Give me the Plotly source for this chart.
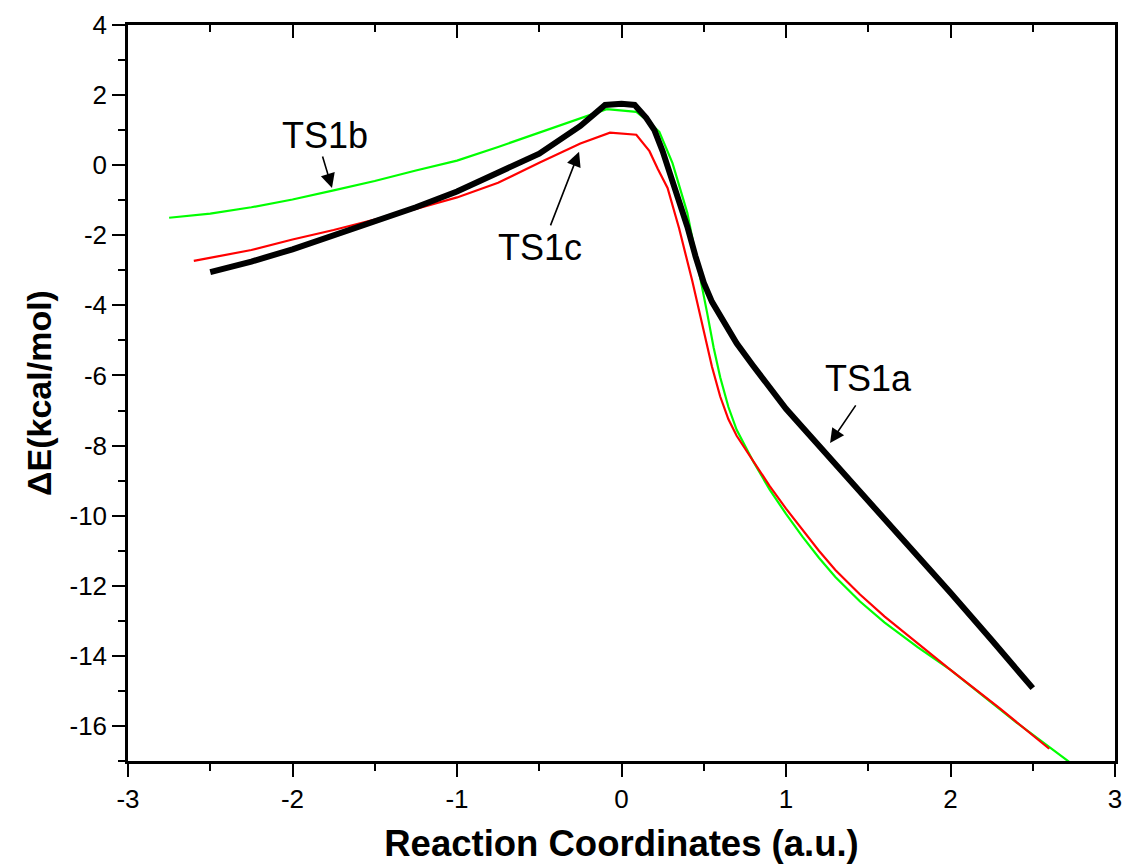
import plotly.graph_objects as go

# TS1a (black, thick)
ts1a_x = [-2.5, -2.25, -2.0, -1.75, -1.5, -1.25, -1.0, -0.75, -0.5, -0.25, -0.1, 0.0, 0.08,
          0.15, 0.2, 0.25, 0.3, 0.35, 0.4, 0.45, 0.5, 0.55, 0.6, 0.65, 0.7, 0.8, 0.9, 1.0,
          1.1, 1.2, 1.3, 1.4, 1.5, 1.75, 2.0, 2.25, 2.5]
ts1a_y = [-3.05, -2.75, -2.4, -2.0, -1.62, -1.2, -0.75, -0.22, 0.33, 1.12, 1.72, 1.75, 1.72,
          1.35, 1.0, 0.4, -0.3, -1.0, -1.75, -2.6, -3.35, -3.9, -4.32, -4.72, -5.08, -5.72,
          -6.35, -6.95, -7.48, -8.0, -8.52, -9.05, -9.58, -10.9, -12.2, -13.55, -14.92]

# TS1c (red)
ts1c_x = [-2.6, -2.25, -2.0, -1.75, -1.5, -1.25, -1.0, -0.75, -0.5, -0.25, -0.07, 0.09, 0.17,
          0.22, 0.28, 0.35, 0.43, 0.49, 0.55, 0.6, 0.65, 0.7, 0.8, 0.9, 1.0, 1.1, 1.2, 1.3,
          1.45, 1.6, 1.8, 2.0, 2.3, 2.6]
ts1c_y = [-2.73, -2.42, -2.12, -1.85, -1.55, -1.25, -0.92, -0.5, 0.07, 0.62, 0.93, 0.87, 0.4,
          -0.1, -0.65, -1.8, -3.3, -4.5, -5.75, -6.6, -7.25, -7.72, -8.45, -9.15, -9.8, -10.4,
          -11.0, -11.55, -12.25, -12.88, -13.65, -14.4, -15.5, -16.65]

# TS1b (green)
ts1b_x = [-2.75, -2.5, -2.25, -2.0, -1.75, -1.5, -1.25, -1.0, -0.75, -0.5, -0.25, -0.09, 0.09,
          0.15, 0.23, 0.31, 0.4, 0.48, 0.52, 0.56, 0.6, 0.65, 0.7, 0.8, 0.9, 1.0, 1.1, 1.2,
          1.3, 1.45, 1.6, 1.8, 2.0, 2.4, 2.8]
ts1b_y = [-1.5, -1.38, -1.2, -0.98, -0.72, -0.45, -0.15, 0.13, 0.52, 0.93, 1.33, 1.6, 1.52,
          1.3, 0.95, 0.06, -1.36, -3.2, -4.2, -5.2, -6.05, -6.9, -7.55, -8.45, -9.25, -9.95,
          -10.6, -11.2, -11.75, -12.45, -13.05, -13.75, -14.4, -15.9, -17.3]

x_ticks = [-3, -2, -1, 0, 1, 2, 3]
y_ticks = [4, 2, 0, -2, -4, -6, -8, -10, -12, -14, -16]

# annotation labels: (text, text_x, text_y, tail_x, tail_y, head_x, head_y)
labels = [
    ("TS1b", -1.80, 0.86, -1.82, 0.29, -1.76, -0.65),
    ("TS1c", -0.495, -2.36, -0.435, -1.76, -0.258, 0.38),
    ("TS1a", 1.50, -6.1, 1.43, -6.81, 1.268, -7.93),
]

FONT = "Liberation Sans, Arial, sans-serif"

fig = go.Figure()
fig.add_trace(go.Scatter(x=ts1b_x, y=ts1b_y, mode="lines", line=dict(color="#00ff00", width=2.2),
                         name="TS1b", showlegend=False))
fig.add_trace(go.Scatter(x=ts1c_x, y=ts1c_y, mode="lines", line=dict(color="#ff0000", width=2.2),
                         name="TS1c", showlegend=False))
fig.add_trace(go.Scatter(x=ts1a_x, y=ts1a_y, mode="lines", line=dict(color="#000000", width=6),
                         name="TS1a", showlegend=False))
# invisible trace for top axis
fig.add_trace(go.Scatter(x=[-3, 3], y=[-17, 4], mode="markers", marker=dict(opacity=0),
                         xaxis="x2", yaxis="y", showlegend=False, hoverinfo="skip"))

for text, tx, ty, ax_, ay_, hx, hy in labels:
    fig.add_annotation(x=tx, y=ty, text=text, showarrow=False,
                       font=dict(family=FONT, size=36, color="black"))
    fig.add_annotation(x=hx, y=hy, ax=ax_, ay=ay_, xref="x", yref="y", axref="x", ayref="y",
                       text="", showarrow=True, arrowhead=2, arrowsize=1.8, arrowwidth=1.6,
                       arrowcolor="black")

fig.update_layout(
    width=1127, height=865,
    margin=dict(l=128, r=12, t=25, b=104, autoexpand=False),
    paper_bgcolor="white", plot_bgcolor="white",
    font=dict(family=FONT, color="black"),
    xaxis=dict(range=[-3, 3], tickvals=x_ticks, ticktext=[str(v) for v in x_ticks],
               ticks="outside", ticklen=13, tickwidth=2, tickcolor="black",
               minor=dict(dtick=0.5, tick0=0, ticks="outside", ticklen=7, tickwidth=2,
                          tickcolor="black", showgrid=False),
               showline=True, linewidth=2.5, linecolor="black", mirror=True,
               showgrid=False, zeroline=False, tickfont=dict(size=26), automargin=False,
               title=dict(text="<b>Reaction Coordinates (a.u.)</b>", font=dict(size=36.5),
                          standoff=18)),
    xaxis2=dict(range=[-3, 3], overlaying="x", side="top", tickvals=x_ticks,
                showticklabels=False, ticks="inside", ticklen=13, tickwidth=2,
                tickcolor="black", automargin=False,
                minor=dict(dtick=0.5, tick0=0, ticks="inside", ticklen=7, tickwidth=2,
                           tickcolor="black", showgrid=False),
                showline=False, showgrid=False, zeroline=False),
    yaxis=dict(range=[-17, 4], tickvals=y_ticks, ticktext=[str(v) for v in y_ticks],
               ticks="outside", ticklen=13, tickwidth=2, tickcolor="black",
               minor=dict(dtick=1, tick0=0, ticks="outside", ticklen=7, tickwidth=2,
                          tickcolor="black", showgrid=False),
               showline=True, linewidth=2.5, linecolor="black", mirror=True,
               showgrid=False, zeroline=False, tickfont=dict(size=26), automargin=False,
               title=dict(text="<b>ΔE(kcal/mol)</b>", font=dict(size=34), standoff=8)),
)

fig.write_html("out.html")
